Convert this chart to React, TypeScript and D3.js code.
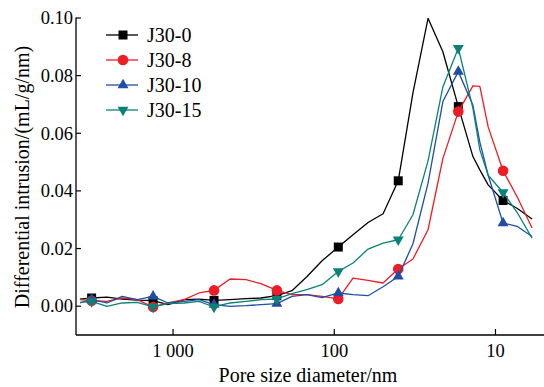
import React from "react";
import * as d3 from "d3";

const diameters = [3780, 3200, 2570, 2070, 1670, 1330, 1075, 855, 690, 557, 443, 353, 285, 227, 183, 148, 119, 94.4, 76.5, 61.7, 49.8, 40.1, 32.5, 26.2, 21.2, 17.0, 13.8, 12.5, 11.1, 8.97, 7.35, 5.93];
const markerDiameters = [3200, 1330, 557, 227, 94.4, 40.1, 17.0, 8.97];

const j30_0 = [0.00243, 0.00284, 0.00312, 0.00243, 0.00208, 0.00191, 0.00052, 0.00225, 0.00243, 0.00201, 0.00225, 0.0026, 0.00284, 0.00364, 0.00537, 0.01023, 0.01577, 0.02052, 0.02478, 0.02905, 0.03206, 0.0435, 0.074, 0.0999, 0.0883, 0.06925, 0.05192, 0.04731, 0.04211, 0.03667, 0.03397, 0.03023];
const j30_8 = [0.00225, 0.00191, 0.00166, 0.00284, 0.00225, -0.00028, 0.00111, 0.00225, 0.00458, 0.00548, 0.00943, 0.00919, 0.0078, 0.00548, 0.00399, 0.00399, 0.0034, 0.0025, 0.00977, 0.00894, 0.00804, 0.01289, 0.01636, 0.02652, 0.0512, 0.06752, 0.07643, 0.07626, 0.06222, 0.04697, 0.03806, 0.02711];
const j30_10 = [0.00111, 0.00225, 0.00111, 0.0034, 0.00225, 0.0034, 0.00111, 0.00166, 0.00225, 0.00052, -0.00007, 0.00017, 0.00052, 0.00087, 0.0034, 0.00399, 0.00295, 0.00458, 0.00399, 0.00364, 0.00676, 0.01033, 0.02166, 0.0427, 0.07102, 0.08139, 0.06971, 0.05692, 0.04544, 0.02884, 0.02773, 0.02419];
const j30_15 = [0.00132, 0.00166, -0.00007, 0.00111, 0.00132, -0.00028, 0.00087, 0.00111, 0.00166, -0.00028, 0.00111, 0.00166, 0.00225, 0.0025, 0.00433, 0.00572, 0.00745, 0.01206, 0.01497, 0.01983, 0.02191, 0.02305, 0.03172, 0.05043, 0.07608, 0.0895, 0.0687, 0.05425, 0.04544, 0.03945, 0.03258, 0.02364];

const seriesNames = ["J30-0", "J30-8", "J30-10", "J30-15"];
const seriesValues = [j30_0, j30_8, j30_10, j30_15];
const seriesColors = ["#000000", "#ee1c24", "#1f4ea3", "#0b817a"];
const seriesSymbols = ["square", "circle", "triangleUp", "triangleDown"];

const yTicks = [0, 0.02, 0.04, 0.06, 0.08, 0.1];
const xTicks = [1000, 100, 10];
const xTickLabels = ["1 000", "100", "10"];

const FONT = "'Liberation Serif', 'Times New Roman', serif";

function symbolPath(kind: string): { d: string; rot: number } {
  if (kind === "square") return { d: d3.symbol(d3.symbolSquare, 81)() as string, rot: 0 };
  if (kind === "circle") return { d: d3.symbol(d3.symbolCircle, 88)() as string, rot: 0 };
  if (kind === "triangleUp") return { d: d3.symbol(d3.symbolTriangle, 52)() as string, rot: 0 };
  return { d: d3.symbol(d3.symbolTriangle, 52)() as string, rot: 180 };
}

export default function App() {
  const W = 544, H = 387;
  const left = 76, right = 544, top = 18, bottom = 335;
  const x = d3.scaleLog().domain([4000, 5]).range([left, right]);
  const y = d3.scaleLinear().domain([-0.01, 0.1]).range([bottom, top]);
  const line = d3
    .line<[number, number]>()
    .x((d) => x(d[0]))
    .y((d) => y(d[1]));

  const legendX = 106, legendY0 = 35, legendDy = 25;

  return (
    <svg width={W} height={H} style={{ position: "absolute", left: 0, top: 0, background: "#fff" }} fontFamily={FONT}>
      <rect width={W} height={H} fill="#fff" />
      {/* axes */}
      <line x1={left} y1={top - 0.5} x2={left} y2={bottom} stroke="#000" strokeWidth={1.3} />
      <line x1={left} y1={bottom} x2={right} y2={bottom} stroke="#000" strokeWidth={1.3} />
      {yTicks.map((t) => (
        <g key={"y" + t}>
          <line x1={left} x2={left + 5} y1={y(t)} y2={y(t)} stroke="#000" strokeWidth={1.2} />
          <text x={left - 3} y={y(t) + 6.3} textAnchor="end" fontSize={18.5}>
            {d3.format(".2f")(t)}
          </text>
        </g>
      ))}
      {xTicks.map((t, i) => (
        <g key={"x" + t}>
          <line x1={x(t)} x2={x(t)} y1={bottom} y2={bottom - 6} stroke="#000" strokeWidth={1.2} />
          <text x={x(t)} y={356.5} textAnchor="middle" fontSize={18.5}>
            {xTickLabels[i]}
          </text>
        </g>
      ))}
      <text x={308} y={381.5} textAnchor="middle" fontSize={20}>
        Pore size diameter/nm
      </text>
      <text transform={`translate(28.5,177) rotate(-90)`} textAnchor="middle" fontSize={20}>
        Differential intrusion/(mL/g/nm)
      </text>

      {/* series */}
      {seriesValues.map((vals, si) => {
        const pts = diameters.map((dd, i) => [dd, vals[i]] as [number, number]);
        const sym = symbolPath(seriesSymbols[si]);
        return (
          <g key={seriesNames[si]}>
            <path d={line(pts) as string} fill="none" stroke={seriesColors[si]} strokeWidth={1.3} strokeLinejoin="round" />
            {pts
              .filter((p) => markerDiameters.includes(p[0]))
              .map((p, k) => (
                <path
                  key={k}
                  d={sym.d}
                  transform={`translate(${x(p[0])},${y(p[1])}) rotate(${sym.rot})`}
                  fill={seriesColors[si]}
                />
              ))}
          </g>
        );
      })}

      {/* legend */}
      {seriesNames.map((name, si) => {
        const ly = legendY0 + si * legendDy;
        const sym = symbolPath(seriesSymbols[si]);
        return (
          <g key={"lg" + name}>
            <line x1={legendX} x2={legendX + 32} y1={ly} y2={ly} stroke={seriesColors[si]} strokeWidth={1.3} />
            <path d={sym.d} transform={`translate(${legendX + 17},${ly}) rotate(${sym.rot})`} fill={seriesColors[si]} />
            <text x={legendX + 41} y={ly + 6.8} fontSize={20}>
              {name}
            </text>
          </g>
        );
      })}
    </svg>
  );
}
